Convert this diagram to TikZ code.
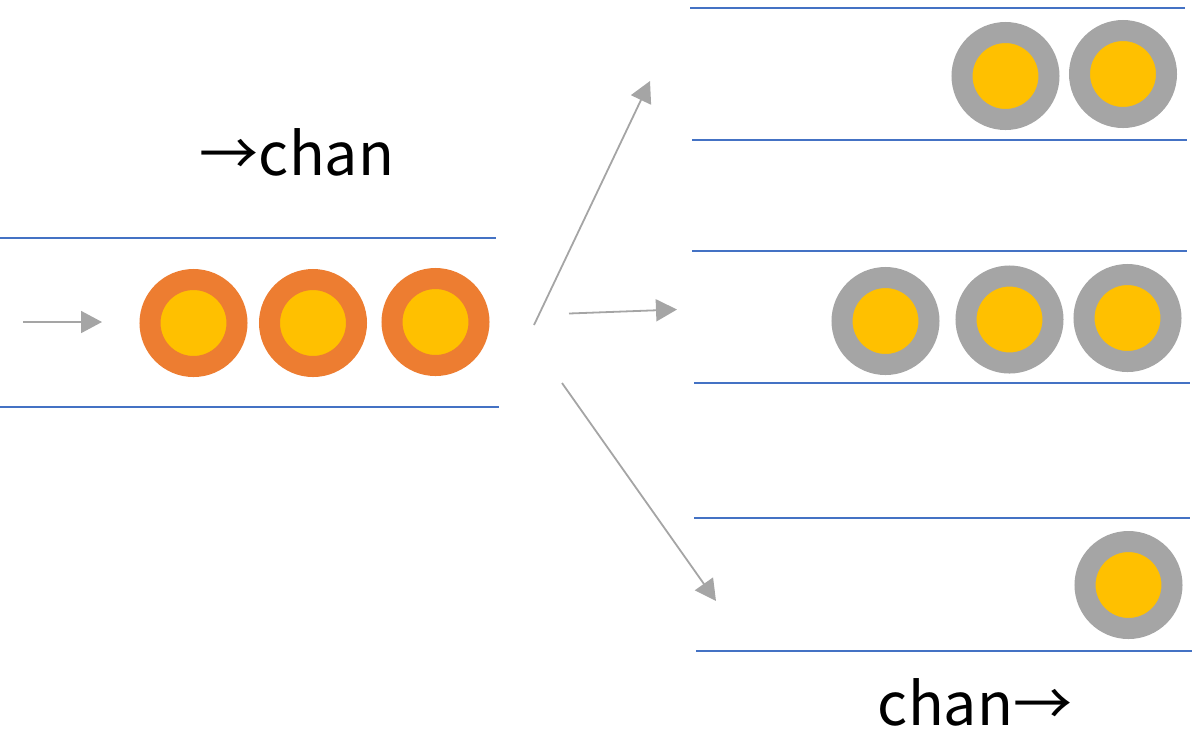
\documentclass[tikz,border=0pt]{standalone}
\usepackage{fontspec}
\newfontfamily\cjk{Noto Sans CJK SC}
\usetikzlibrary{arrows.meta}
\definecolor{chblue}{HTML}{4472C4}
\definecolor{argray}{HTML}{A5A5A5}
\definecolor{orng}{HTML}{ED7D31}
\definecolor{yell}{HTML}{FFC000}
\definecolor{cgray}{HTML}{A5A5A5}
\begin{document}
\begin{tikzpicture}[x=0.5pt,y=-0.5pt,
  wall/.style={draw=chblue,line width=1pt},
  flow/.style={draw=argray,line width=0.9pt,-{Triangle[length=10.5pt,width=11pt]}},
  ballbase/.style={circle,fill=yell,line width=10.5pt,minimum size=43.5pt,inner sep=0pt},
  sent/.style={ballbase,draw=orng},
  got/.style={ballbase,draw=cgray},
  lbl/.style={font=\cjk\fontsize{29.5pt}{32pt}\selectfont,inner sep=0pt,anchor=base}]
\useasboundingbox (0,0) rectangle (1200,736);
% left channel
\coordinate (l1a) at (0,238); \coordinate (l1b) at (496,238);
\coordinate (l2a) at (0,407); \coordinate (l2b) at (499,407);
\draw[wall] (l1a) -- (l1b);
\draw[wall] (l2a) -- (l2b);
\node[sent] (o1) at (193.5,323) {};
\node[sent] (o2) at (313,323) {};
\node[sent] (o3) at (435.5,322) {};
\coordinate (in0) at (23,322); \coordinate (in1) at (102,322);
\draw[flow] (in0) -- (in1);
\node[lbl] (t1) at (297,175) {→chan};
% right top channel
\coordinate (r1a) at (690,8); \coordinate (r1b) at (1185,8);
\coordinate (r2a) at (692,140); \coordinate (r2b) at (1187,140);
\draw[wall] (r1a) -- (r1b);
\draw[wall] (r2a) -- (r2b);
\node[got] (g1) at (1005.5,76) {};
\node[got] (g2) at (1123,74) {};
% right middle channel
\coordinate (r3a) at (692,251); \coordinate (r3b) at (1187,251);
\coordinate (r4a) at (694,383); \coordinate (r4b) at (1190,383);
\draw[wall] (r3a) -- (r3b);
\draw[wall] (r4a) -- (r4b);
\node[got] (g3) at (885.5,321) {};
\node[got] (g4) at (1009.5,319.5) {};
\node[got] (g5) at (1127.5,318) {};
% right bottom channel
\coordinate (r5a) at (694,518); \coordinate (r5b) at (1190,518);
\coordinate (r6a) at (696,651); \coordinate (r6b) at (1192,651);
\draw[wall] (r5a) -- (r5b);
\draw[wall] (r6a) -- (r6b);
\node[got] (g6) at (1128.5,585) {};
\node[lbl] (t2) at (975,725) {chan→};
% fan-out arrows
\coordinate (a1s) at (534,325); \coordinate (a1e) at (650,81);
\coordinate (a2s) at (569,313.5); \coordinate (a2e) at (677,309.5);
\coordinate (a3s) at (562,383); \coordinate (a3e) at (716,601);
\draw[flow] (a1s) -- (a1e);
\draw[flow] (a2s) -- (a2e);
\draw[flow] (a3s) -- (a3e);
\end{tikzpicture}
\end{document}
